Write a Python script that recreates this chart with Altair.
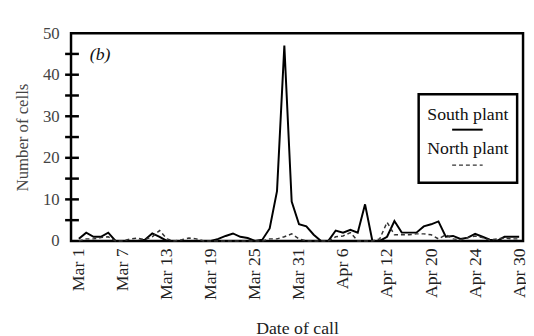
import altair as alt
import pandas as pd

# Day index 0 = Mar 1 ... 60 = Apr 30
days = list(range(61))
south = [0.5, 2, 1, 1, 2, 0, 0, 0, 0, 0.3,
         1.8, 1, 0, 0, 0, 0, 0, 0, 0, 0.5,
         1.2, 1.8, 1, 0.7, 0, 0.3, 3, 12, 47, 9.5,
         4, 3.5, 1.5, 0, 0, 2.5, 2, 2.7, 2, 8.8,
         0, 0, 1, 4.8, 2, 2, 2, 3.5, 4, 4.7,
         1, 1.2, 0.5, 0.8, 1.7, 1, 0.3, 0, 1, 1, 1]
north = [0, 0.5, 0.5, 0.8, 1, 0, 0, 0.5, 0.7, 0.3,
         1, 2.5, 0.5, 0, 0.3, 0.7, 0.5, 0, 0, 0,
         0, 0, 0, 0, 0, 0, 0.5, 0.5, 1, 1.7,
         0.5, 0, 0, 0, 0, 1, 1.2, 2, 0, 0,
         0, 0.5, 4.5, 1.5, 1.5, 1.5, 1.7, 1.7, 1.5, 0.5,
         1.5, 0.5, 0.3, 0.8, 1.2, 0.8, 0.2, 0.5, 0.7, 0.5, 0.5]

tick_days = [0, 6, 12, 18, 24, 30, 36, 42, 48, 54, 60]
tick_labels = ["Mar 1", "Mar 7", "Mar 13", "Mar 19", "Mar 25", "Mar 31",
               "Apr 6", "Apr 12", "Apr 20", "Apr 24", "Apr 30"]
y_labels = [0, 10, 20, 30, 40, 50]
y_minor = [5, 10, 15, 20, 25, 30, 35, 40, 45]
legend_names = ["South plant", "North plant"]
panel_label = "(b)"

df = pd.DataFrame({
    "day": days * 2,
    "cells": south + north,
    "plant": [legend_names[0]] * len(days) + [legend_names[1]] * len(days),
})

FONT = "Liberation Serif"
label_expr = "[" + ",".join("'%s'" % t for t in tick_labels) + "][round(datum.value/6)]"

x_scale = alt.Scale(domain=[-1.07, 60.53], nice=False, zero=False)
y_scale = alt.Scale(domain=[0, 50], nice=False)

x_enc = alt.X("day:Q", scale=x_scale,
              axis=alt.Axis(values=tick_days, labelExpr=label_expr, labelAngle=270,
                            ticks=False, domain=False, grid=False, labelPadding=7,
                            labelFont=FONT, labelFontSize=18, labelColor="#222",
                            labelBound=False, labelOverlap=False,
                            title="Date of call", titleFont=FONT, titleFontSize=18,
                            titleFontWeight="normal", titleColor="#222", titlePadding=20))
y_enc = alt.Y("cells:Q", scale=y_scale,
              axis=alt.Axis(values=y_labels, ticks=False, domain=False, grid=False,
                            labelPadding=12, labelFont=FONT, labelFontSize=17,
                            labelColor="#444", title="Number of cells", titleFont=FONT,
                            titleFontSize=17, titleFontWeight="normal", titleColor="#444",
                            titlePadding=11))

south_line = alt.Chart(df).transform_filter(
    alt.datum.plant == legend_names[0]
).mark_line(color="black", strokeWidth=2).encode(x=x_enc, y=y_enc)

north_line = alt.Chart(df).transform_filter(
    alt.datum.plant == legend_names[1]
).mark_line(color="#333", strokeWidth=1.5, strokeDash=[4, 3]).encode(
    x=alt.X("day:Q", scale=x_scale), y=alt.Y("cells:Q", scale=y_scale))

ticks = alt.Chart(pd.DataFrame({"v": y_minor})).mark_rule(
    color="black", strokeWidth=2.5
).encode(y=alt.Y("v:Q", scale=y_scale), x=alt.value(-6), x2=alt.value(8))

one = pd.DataFrame({"a": [0]})
legend_box = alt.Chart(one).mark_rect(
    fill="white", stroke="black", strokeWidth=2.5
).encode(x=alt.value(353), x2=alt.value(453), y=alt.value(62), y2=alt.value(152))

legend_text1 = alt.Chart(one).mark_text(
    font=FONT, fontSize=18, color="#111", align="center", baseline="middle"
).encode(x=alt.value(403), y=alt.value(83), text=alt.value(legend_names[0]))
legend_text2 = alt.Chart(one).mark_text(
    font=FONT, fontSize=18, color="#111", align="center", baseline="middle"
).encode(x=alt.value(403), y=alt.value(118), text=alt.value(legend_names[1]))
legend_line1 = alt.Chart(one).mark_rule(color="black", strokeWidth=2).encode(
    x=alt.value(387), x2=alt.value(418), y=alt.value(98))
legend_line2 = alt.Chart(one).mark_rule(color="#333", strokeWidth=1.5, strokeDash=[4, 3]).encode(
    x=alt.value(387), x2=alt.value(418), y=alt.value(134))

panel = alt.Chart(one).mark_text(
    font=FONT, fontSize=18, fontStyle="italic", color="#111", align="left", baseline="middle"
).encode(x=alt.value(19), y=alt.value(22), text=alt.value(panel_label))

chart = alt.layer(
    south_line, north_line, ticks, legend_box, legend_text1, legend_text2,
    legend_line1, legend_line2, panel
).properties(
    width=459, height=211,
    padding={"left": 64, "top": 23, "right": 3, "bottom": 95},
    autosize="none",
).configure_view(stroke="black", strokeWidth=2.5)

chart.save("out.html", embed_options={"renderer": "svg", "actions": False})
